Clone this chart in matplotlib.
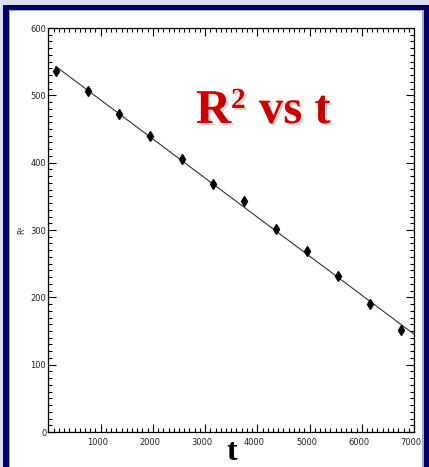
import numpy as np
import matplotlib
matplotlib.use('Agg')
import matplotlib.pyplot as plt
import matplotlib.patheffects as pe
from matplotlib.patches import Rectangle
from matplotlib.ticker import MultipleLocator, FixedLocator
from matplotlib.transforms import ScaledTranslation

# Measured R^2 against time
t_values = [150, 750, 1350, 1950, 2550, 3150, 3750, 4350, 4950, 5550, 6150, 6750]
r2_values = [536, 507, 472, 439, 405, 368, 343, 301, 269, 231, 190, 152]
x_tick_labels = ['1000', '2000', '3000', '4000', '5000', '6000', '7000']

W, H = 429, 467
fig = plt.figure(figsize=(W / 100, H / 100), dpi=100, facecolor='#dcdff0')


def px_rect(x0, y0, x1, y1, color):
    # rectangle given in pixel coords measured from the top-left corner
    r = Rectangle((x0 / W, 1 - y1 / H), (x1 - x0) / W, (y1 - y0) / H,
                  transform=fig.transFigure, facecolor=color,
                  edgecolor='none', zorder=-10)
    fig.patches.append(r)


# slide border
px_rect(3, 5, 429, 480, '#000066')
px_rect(9, 10, 424, 480, '#a4a8d8')
px_rect(10, 11, 422, 480, 'white')

ax = fig.add_axes([48.4 / W, 1 - 432 / H, (414 - 48.4) / W, (432 - 28) / H])
ax.set_facecolor('white')

ax.plot(t_values, r2_values, linestyle='none', marker='d', markersize=5.5,
        color='black', zorder=3)

# least squares line
slope, intercept = np.polyfit(t_values, r2_values, 1)
fit_x = np.array([t_values[0] - 5, 7000])
ax.plot(fit_x, slope * fit_x + intercept, color='#333333', linewidth=0.8,
        zorder=2)

ax.set_xlim(0, 7000)
ax.set_ylim(0, 600)

ax.xaxis.set_major_locator(FixedLocator(range(1000, 8000, 1000)))
ax.xaxis.set_minor_locator(MultipleLocator(100))
ax.yaxis.set_major_locator(MultipleLocator(100))
ax.yaxis.set_minor_locator(MultipleLocator(10))
ax.set_xticklabels(x_tick_labels)

tick_font = ['Liberation Sans Narrow', 'DejaVu Sans']
ax.tick_params(which='both', direction='in', top=True, right=True,
               width=0.8, color='black')
ax.tick_params(which='major', length=6)
ax.tick_params(which='minor', length=3.2)
ax.tick_params(axis='y', pad=1.5)
ax.tick_params(axis='x', pad=4)
for lbl in ax.get_xticklabels() + ax.get_yticklabels():
    lbl.set_fontsize(6)
    lbl.set_family(tick_font)
    lbl.set_color('#222222')
for lbl in ax.get_xticklabels():
    lbl.set_transform(lbl.get_transform() +
                      ScaledTranslation(-3 / 100, 0, fig.dpi_scale_trans))

for sp in ax.spines.values():
    sp.set_linewidth(0.9)
    sp.set_color('black')

ax.set_ylabel('R²', fontsize=5.5, family=tick_font, color='#222222',
              labelpad=3)

ax.set_xlabel('t', fontsize=23, family='Liberation Serif', weight='bold',
              color='black')
ax.xaxis.label.set_va('baseline')
ax.xaxis.set_label_coords(0.502, (432 - 460) / 404)

# red headline with a soft drop shadow, superscript set as its own piece
shadow = [pe.withSimplePatchShadow(offset=(1.5, -1.5),
                                   shadow_rgbFace='#999999', alpha=0.45)]
title_style = dict(family='Liberation Serif', weight='bold', color='#cc0000',
                   ha='left', va='baseline', path_effects=shadow)
fig.text(196 / W, 1 - 123 / H, 'R', fontsize=35, **title_style)
fig.text(231 / W, 1 - 108 / H, '2', fontsize=21, **title_style)
fig.text(259 / W, 1 - 123 / H, 'vs t', fontsize=35, **title_style)

fig.savefig('out.png', dpi=100, facecolor=fig.get_facecolor())
